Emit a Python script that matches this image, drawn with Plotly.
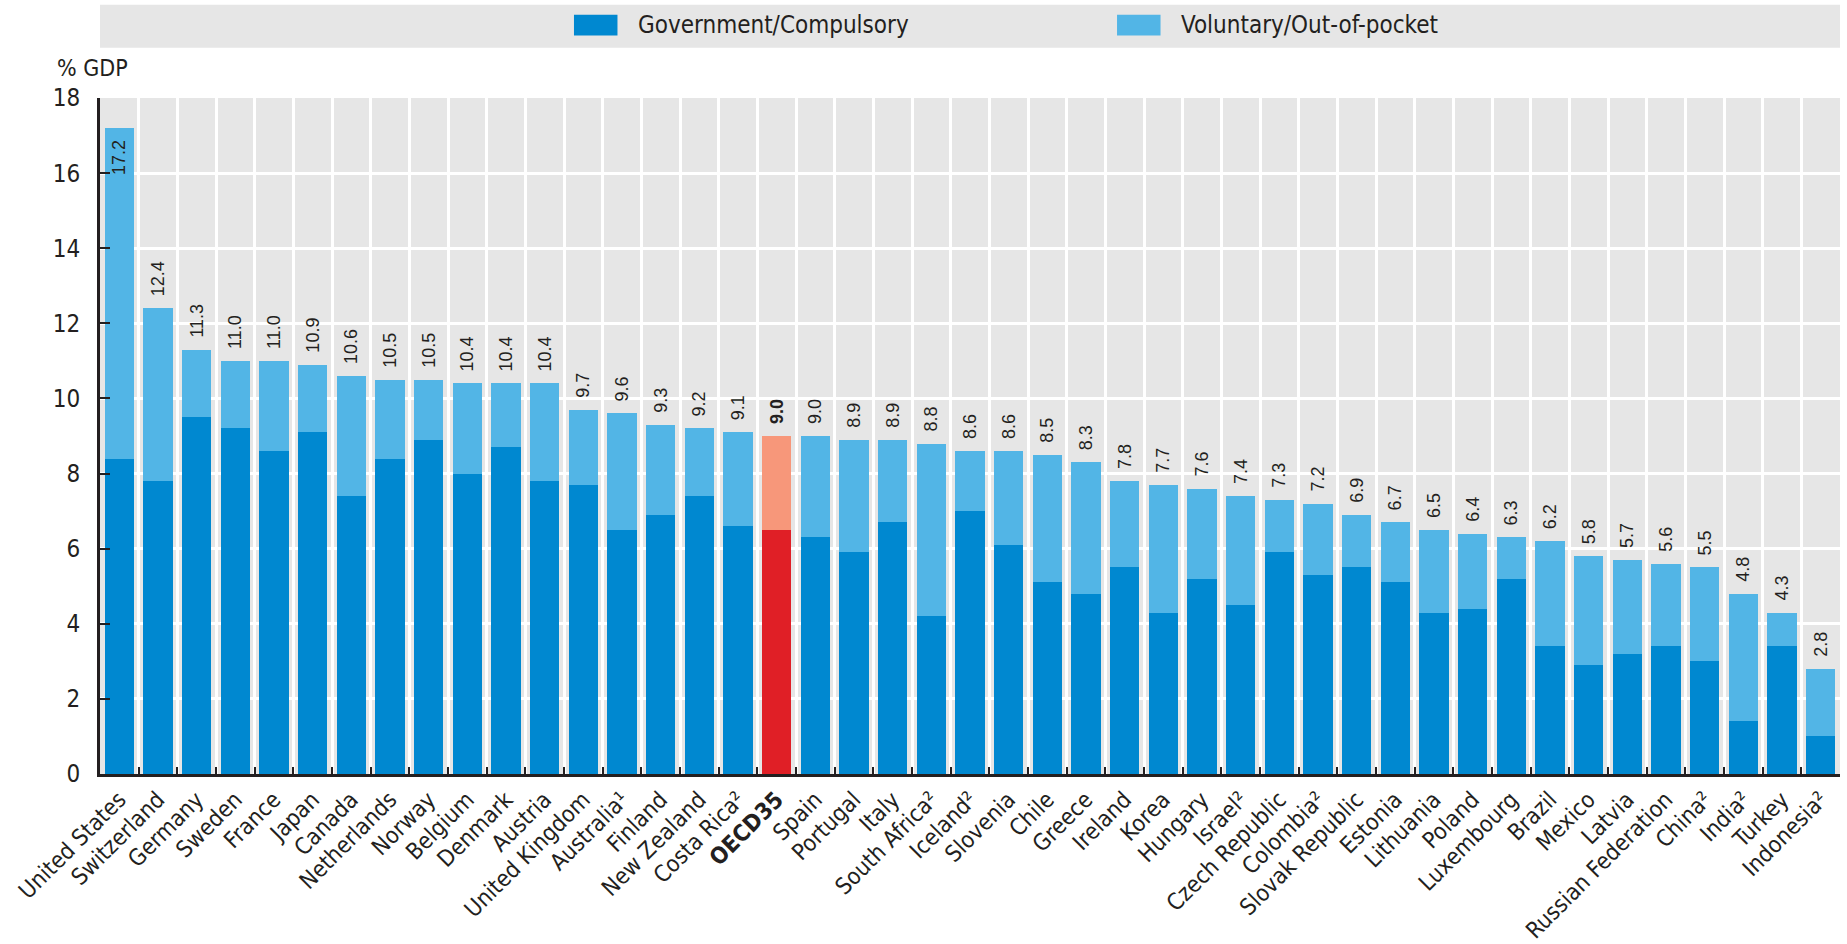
import plotly.graph_objects as go

countries = [
    "United States", "Switzerland", "Germany", "Sweden", "France", "Japan", "Canada",
    "Netherlands", "Norway", "Belgium", "Denmark", "Austria", "United Kingdom",
    "Australia¹", "Finland", "New Zealand", "Costa Rica²", "<b>OECD35</b>", "Spain",
    "Portugal", "Italy", "South Africa²", "Iceland²", "Slovenia", "Chile", "Greece",
    "Ireland", "Korea", "Hungary", "Israel²", "Czech Republic", "Colombia²",
    "Slovak Republic", "Estonia", "Lithuania", "Poland", "Luxembourg", "Brazil",
    "Mexico", "Latvia", "Russian Federation", "China²", "India²", "Turkey", "Indonesia²",
]
totals = [
    17.2, 12.4, 11.3, 11.0, 11.0, 10.9, 10.6, 10.5, 10.5, 10.4, 10.4, 10.4, 9.7, 9.6,
    9.3, 9.2, 9.1, 9.0, 9.0, 8.9, 8.9, 8.8, 8.6, 8.6, 8.5, 8.3, 7.8, 7.7, 7.6, 7.4,
    7.3, 7.2, 6.9, 6.7, 6.5, 6.4, 6.3, 6.2, 5.8, 5.7, 5.6, 5.5, 4.8, 4.3, 2.8,
]
government = [
    8.4, 7.8, 9.5, 9.2, 8.6, 9.1, 7.4, 8.4, 8.9, 8.0, 8.7, 7.8, 7.7, 6.5, 6.9, 7.4,
    6.6, 6.5, 6.3, 5.9, 6.7, 4.2, 7.0, 6.1, 5.1, 4.8, 5.5, 4.3, 5.2, 4.5, 5.9, 5.3,
    5.5, 5.1, 4.3, 4.4, 5.2, 3.4, 2.9, 3.2, 3.4, 3.0, 1.4, 3.4, 1.0,
]
voluntary = [
    8.8, 4.6, 1.8, 1.8, 2.4, 1.8, 3.2, 2.1, 1.6, 2.4, 1.7, 2.6, 2.0, 3.1, 2.4, 1.8,
    2.5, 2.5, 2.7, 3.0, 2.2, 4.6, 1.6, 2.5, 3.4, 3.5, 2.3, 3.4, 2.4, 2.9, 1.4, 1.9,
    1.4, 1.6, 2.2, 2.0, 1.1, 2.8, 2.9, 2.5, 2.2, 2.5, 3.4, 0.9, 1.8,
]
legend_names = ["Government/Compulsory", "Voluntary/Out-of-pocket"]

GOV = "#0088d0"
VOL = "#52b5e6"
OECD_GOV = "#e01f26"
OECD_VOL = "#f7977a"
INK = "#231f20"
FONT = "Liberation Sans Narrow, DejaVu Sans Condensed, Arial Narrow, sans-serif"
Y_MAX = 18

is_oecd = ["OECD" in c for c in countries]
gov_colors = [OECD_GOV if o else GOV for o in is_oecd]
vol_colors = [OECD_VOL if o else VOL for o in is_oecd]
# en spaces give the small gap between bar end and the rotated label
labels = ["\u2002" + (f"<b>{t:.1f}</b>" if o else f"{t:.1f}") + "\u2002"
          for t, o in zip(totals, is_oecd)]
# the tallest bar has no room above it, its label sits inside the bar top
text_pos = ["inside" if t > Y_MAX - 1.5 else "outside" for t in totals]

fig = go.Figure()
fig.add_trace(go.Bar(
    x=countries, y=government, name=legend_names[0],
    marker_color=gov_colors, marker_line_width=0, hoverinfo="x+y",
))
fig.add_trace(go.Bar(
    x=countries, y=voluntary, name=legend_names[1],
    marker_color=vol_colors, marker_line_width=0,
    text=labels, textposition=text_pos, textangle=-90, constraintext="none",
    insidetextanchor="end",
    textfont=dict(size=18, color=INK, family="Liberation Sans, Arial, sans-serif"),
    cliponaxis=False, hoverinfo="x+y",
))

# legend band drawn by hand to get the wide swatches of the original
legend_shapes = [dict(
    type="rect", xref="paper", yref="paper", x0=0, x1=1, y0=1.0745, y1=1.138,
    fillcolor="#e6e6e6", line_width=0, layer="below",
)]
legend_notes = []
for name, col, sx in [(legend_names[0], GOV, 0.2724), (legend_names[1], VOL, 0.5845)]:
    legend_shapes.append(dict(
        type="rect", xref="paper", yref="paper", x0=sx, x1=sx + 0.0250,
        y0=1.0923, y1=1.1232, fillcolor=col, line_width=0,
    ))
    legend_notes.append(dict(
        text=name, xref="paper", yref="paper", x=sx + 0.0356, y=1.1077,
        xanchor="left", yanchor="middle", showarrow=False, font=dict(size=24),
    ))

fig.update_layout(
    width=1847, height=944,
    barmode="stack", bargap=0.24,
    plot_bgcolor="#e6e6e6", paper_bgcolor="white",
    font=dict(family=FONT, color=INK, size=22),
    margin=dict(l=100, r=7, t=97.5, b=169.5),
    showlegend=False,
    shapes=legend_shapes,
    annotations=legend_notes + [dict(
        text="% GDP", xref="paper", yref="paper", x=-0.026, y=1.044,
        xanchor="left", yanchor="middle", showarrow=False, font=dict(size=23),
    )],
)
fig.update_xaxes(
    type="category", tickson="boundaries", tickangle=-45,
    showgrid=True, gridcolor="white", gridwidth=3,
    showline=True, linecolor=INK, linewidth=3,
    ticks="inside", ticklen=7, tickcolor=INK, tickwidth=1.5,
    tickfont=dict(size=23), automargin=False,
)
fig.update_yaxes(
    range=[0, Y_MAX], dtick=2, showgrid=True, gridcolor="white", gridwidth=3,
    showline=True, linecolor=INK, linewidth=3,
    ticks="inside", ticklen=10, tickcolor=INK, tickwidth=1.5,
    tickfont=dict(size=24), ticklabelstandoff=12, zeroline=False, automargin=False,
)

fig.write_html(
    "out.html",
    config={"displayModeBar": False},
    post_script="document.body.style.margin='0';",
)
